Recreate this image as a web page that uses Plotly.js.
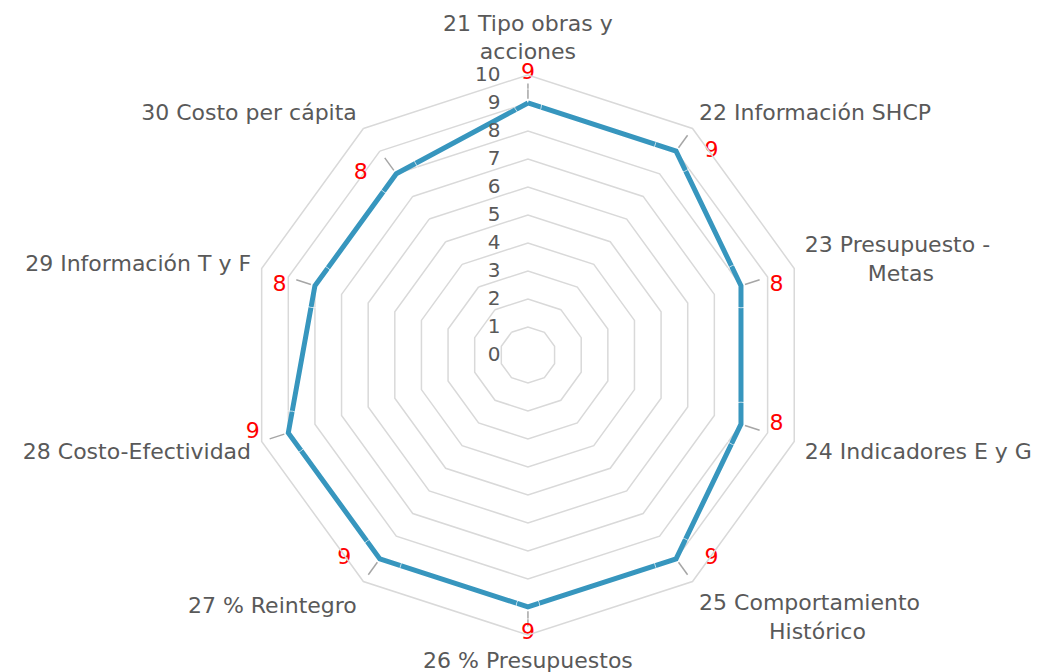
<!DOCTYPE html>
<html>
<head>
<meta charset="utf-8">
<script src="https://cdn.plot.ly/plotly-3.0.1.min.js"></script>
<style>html,body{margin:0;padding:0;background:#fff;}#chart{width:1044px;height:672px;}</style>
</head>
<body>
<div id="chart"></div>
<script>
const NB = "\u00a0";
const categories = [
  "21 Tipo obras y<br>acciones",
  "22 Información SHCP",
  "23 Presupuesto -<br>" + NB.repeat(9) + "Metas",
  "24 Indicadores E y G",
  "25 Comportamiento<br>" + NB.repeat(10) + "Histórico",
  "26 % Presupuestos",
  "27 % Reintegro",
  "28 Costo-Efectividad",
  "29 Información T y F",
  "30 Costo per cápita"
];
const values = [9, 9, 8, 8, 9, 9, 9, 9, 8, 8];
const radialTicks = [0,1,2,3,4,5,6,7,8,9,10];

const FONT = "'DejaVu Sans', sans-serif";
const GRAY = "#595959";
const GRID = "#D9D9D9";
const LEADER_START = 0.15;
const LEADER_END = 0.7;

// screen angle (deg) of each category: clockwise from the top
const catAngle = categories.map((c, i) => 90 - i * 360 / categories.length);
const sinA = catAngle.map(a => Math.sin(a * Math.PI / 180));
const cosA = catAngle.map(a => Math.cos(a * Math.PI / 180));
// label side derived from the category direction
const labelPos = sinA.map((s, i) => {
  if (s > 0.9) return 'top center';
  if (s < -0.9) return 'bottom center';
  return cosA[i] > 0 ? 'middle right' : 'middle left';
});
// invisible marker size sets the label's distance from the point
const labelGap = sinA.map(s => s > 0.9 ? 28 : (s < -0.9 ? 24 : 44));

const lineTrace = {
  type: 'scatterpolar',
  r: values.concat([values[0]]),
  theta: categories.concat([categories[0]]),
  mode: 'lines',
  line: {color: '#3796BE', width: 5},
  hoverinfo: 'skip',
  showlegend: false
};

// leader lines (short radial segments from each point)
const leaderR = [], leaderT = [];
values.forEach((v, i) => {
  leaderR.push(v + LEADER_START, v + LEADER_END, null);
  leaderT.push(categories[i], categories[i], null);
});
const leaderTrace = {
  type: 'scatterpolar',
  r: leaderR,
  theta: leaderT,
  mode: 'lines',
  line: {color: '#A6A6A6', width: 1.5},
  connectgaps: false,
  hoverinfo: 'skip',
  showlegend: false
};

const labelTrace = {
  type: 'scatterpolar',
  r: values,
  theta: categories,
  mode: 'markers+text',
  marker: {size: labelGap, color: 'rgba(0,0,0,0)'},
  text: values.map(String),
  textfont: {family: FONT, size: 22, color: '#FF0000'},
  textposition: labelPos,
  hoverinfo: 'skip',
  showlegend: false,
  cliponaxis: false
};

const layout = {
  width: 1044,
  height: 672,
  margin: {l: 0, r: 0, t: 0, b: 0},
  paper_bgcolor: '#ffffff',
  plot_bgcolor: '#ffffff',
  showlegend: false,
  font: {family: FONT, size: 22, color: GRAY},
  polar: {
    domain: {x: [0.2375, 0.7739], y: [0.0551, 0.8884]},
    bgcolor: '#ffffff',
    gridshape: 'linear',
    radialaxis: {
      range: [0, 10],
      tickvals: radialTicks,
      ticktext: radialTicks.map(String),
      angle: 90,
      side: 'counterclockwise',
      showline: false,
      ticks: 'outside',
      ticklen: 20,
      tickcolor: 'rgba(0,0,0,0)',
      showgrid: true,
      gridcolor: GRID,
      gridwidth: 1.5,
      tickfont: {family: FONT, size: 20, color: GRAY},
      tickangle: 90
    },
    angularaxis: {
      type: 'category',
      categoryarray: categories,
      direction: 'clockwise',
      rotation: 90,
      showgrid: false,
      showline: true,
      linecolor: GRID,
      linewidth: 1.5,
      ticks: 'outside',
      ticklen: 6,
      tickcolor: 'rgba(0,0,0,0)',
      tickfont: {family: FONT, size: 22, color: GRAY}
    }
  }
};

Plotly.newPlot('chart', [lineTrace, leaderTrace, labelTrace], layout, {displayModeBar: false, staticPlot: true});
</script>
</body>
</html>
